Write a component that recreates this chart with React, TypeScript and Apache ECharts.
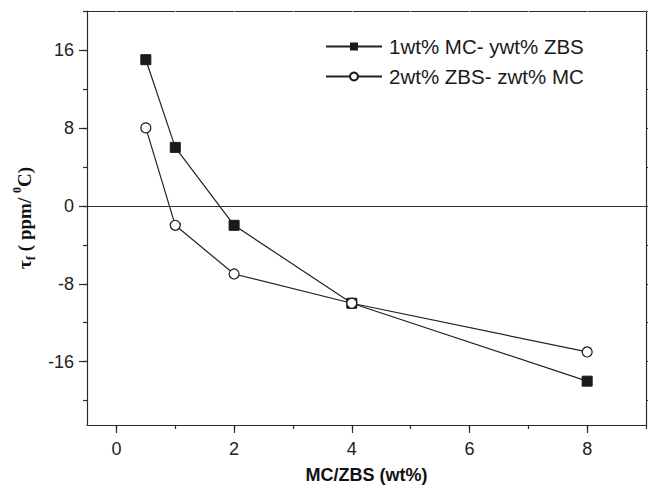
import React, { useEffect, useRef } from "react";
import * as echarts from "echarts";

const xValues = [0.5, 1, 2, 4, 8];
const seriesMC = [15, 6, -2, -10, -18];
const seriesZBS = [8, -2, -7, -10, -15];
const xMajorTicks = [0, 2, 4, 6, 8];
const xMinorTicks = [0, 1, 2, 3, 4, 5, 6, 7, 8, 9];
const yMajorTicks = [-16, -8, 0, 8, 16];
const yMinorTicks = [-20, -16, -12, -8, -4, 0, 4, 8, 12, 16, 20];
const legendNames = ["1wt% MC- ywt% ZBS", "2wt% ZBS- zwt% MC"];

const FONT = "Liberation Sans, Arial, sans-serif";
const SERIF = "Liberation Serif, Times New Roman, serif";
const XMIN = -0.5, XMAX = 9, YMIN = -22.5, YMAX = 20;

export default function App() {
  const ref = useRef<HTMLDivElement>(null);
  useEffect(() => {
    const chart = echarts.init(ref.current!, null, { renderer: "svg" });
    const axisCol = "#2a2a2a";
    const baseX = { type: "value", min: XMIN, max: XMAX, splitLine: { show: false } };
    const baseY = { type: "value", min: YMIN, max: YMAX, splitLine: { show: false } };
    chart.setOption({
      animation: false,
      backgroundColor: "#ffffff",
      grid: { left: 87, right: 7, top: 11, bottom: 59, containLabel: false },
      legend: {
        orient: "vertical",
        left: 320,
        top: 31,
        itemWidth: 56,
        itemHeight: 10,
        itemGap: 9,
        textStyle: { fontFamily: FONT, fontSize: 20.5, color: "#1a1a1a", padding: [0, 0, 0, 2] },
        data: legendNames,
      },
      xAxis: [
        {
          ...baseX,
          position: "bottom",
          axisLine: { onZero: false, lineStyle: { color: axisCol, width: 1.2 } },
          axisTick: { show: true, customValues: xMajorTicks, length: 8, lineStyle: { color: axisCol, width: 1.2 } },
          axisLabel: { customValues: xMajorTicks, fontFamily: FONT, fontSize: 18, color: "#222", margin: 15 },
          name: "MC/ZBS (wt%)",
          nameLocation: "middle",
          nameGap: 41,
          nameTextStyle: { fontFamily: FONT, fontSize: 18, fontWeight: "bold", color: "#111" },
        },
        {
          ...baseX,
          position: "bottom",
          axisLine: { show: false, onZero: false },
          axisTick: { show: true, customValues: xMinorTicks, length: 4, lineStyle: { color: axisCol, width: 1.2 } },
          axisLabel: { show: false },
        },
        {
          ...baseX,
          position: "top",
          axisLine: { onZero: false, lineStyle: { color: axisCol, width: 1.2 } },
          axisTick: { show: true, inside: true, customValues: xMinorTicks, length: 1, lineStyle: { color: "#bbb" } },
          axisLabel: { show: false },
        },
      ],
      yAxis: [
        {
          ...baseY,
          position: "left",
          axisLine: { onZero: false, lineStyle: { color: axisCol, width: 1.2 } },
          axisTick: { show: true, customValues: yMajorTicks, length: 8, lineStyle: { color: axisCol, width: 1.2 } },
          axisLabel: { customValues: yMajorTicks, fontFamily: FONT, fontSize: 18, color: "#222", margin: 13 },
          name: "{a|τ}{b|f}{a| ( ppm/ }{c|0}{a|C)}",
          nameLocation: "middle",
          nameGap: 48,
          nameTextStyle: {
            rich: {
              a: { fontFamily: SERIF, fontSize: 19, fontWeight: "bold", color: "#111", lineHeight: 26, verticalAlign: "middle" },
              b: { fontFamily: SERIF, fontSize: 13, fontWeight: "bold", color: "#111", lineHeight: 26, verticalAlign: "bottom" },
              c: { fontFamily: SERIF, fontSize: 12, fontWeight: "bold", color: "#111", lineHeight: 26, verticalAlign: "top" },
            },
          },
        },
        {
          ...baseY,
          position: "left",
          axisLine: { show: false, onZero: false },
          axisTick: { show: true, customValues: yMinorTicks, length: 4, lineStyle: { color: axisCol, width: 1.2 } },
          axisLabel: { show: false },
        },
        {
          ...baseY,
          position: "right",
          axisLine: { onZero: false, lineStyle: { color: axisCol, width: 1.2 } },
          axisTick: { show: true, customValues: yMinorTicks, length: 2, lineStyle: { color: axisCol } },
          axisLabel: { show: false },
        },
      ],
      series: [
        {
          name: legendNames[0],
          type: "line",
          xAxisIndex: 0,
          yAxisIndex: 0,
          data: xValues.map((x, i) => [x, seriesMC[i]]),
          symbol: "rect",
          symbolSize: 10,
          itemStyle: { color: "#1a1a1a", borderColor: "#1a1a1a" },
          lineStyle: { color: "#222", width: 1.2 },
          markLine: {
            silent: true,
            symbol: "none",
            label: { show: false },
            lineStyle: { color: "#333", width: 1.2, type: "solid" },
            data: [{ yAxis: 0 }],
          },
          z: 3,
        },
        {
          name: legendNames[1],
          type: "line",
          xAxisIndex: 0,
          yAxisIndex: 0,
          data: xValues.map((x, i) => [x, seriesZBS[i]]),
          symbol: "circle",
          symbolSize: 10,
          itemStyle: { color: "#ffffff", borderColor: "#1a1a1a", borderWidth: 1.2 },
          lineStyle: { color: "#222", width: 1.2 },
          z: 4,
        },
      ],
    });
    return () => chart.dispose();
  }, []);
  return <div ref={ref} style={{ width: 653, height: 489, position: "absolute", left: 0, top: 0 }} />;
}
